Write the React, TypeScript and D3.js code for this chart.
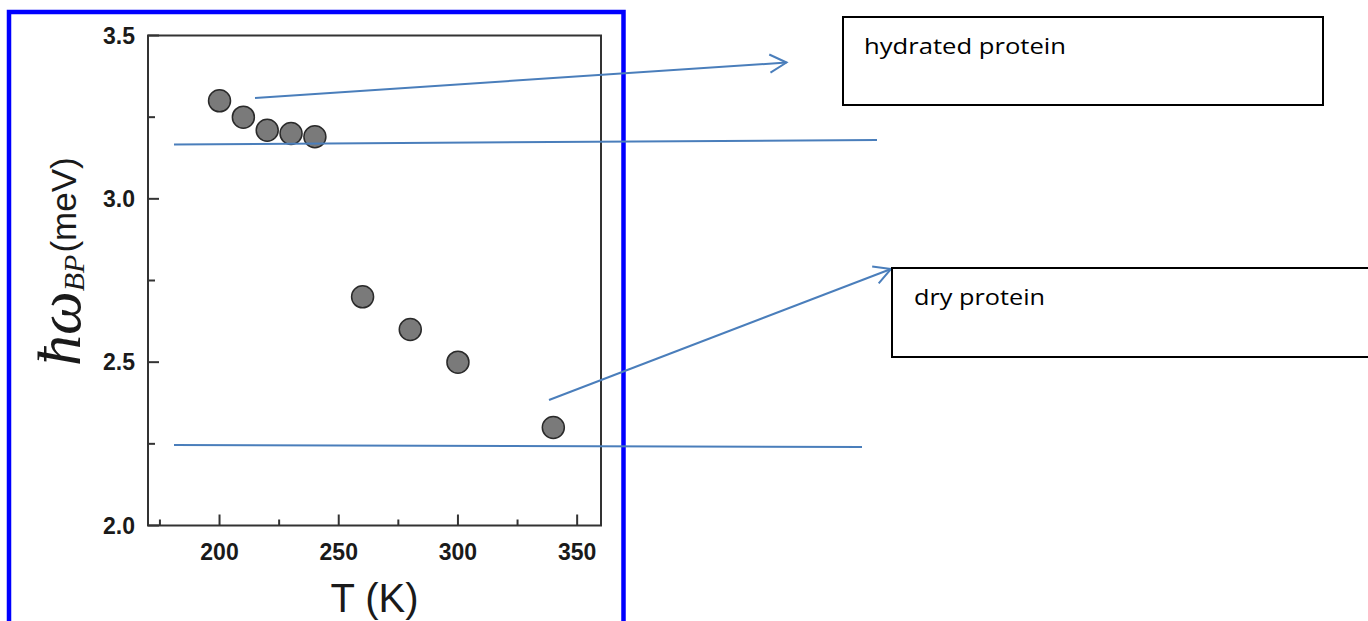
import React from "react";
import * as d3 from "d3";

const temperatures = [200, 210, 220, 230, 240, 260, 280, 300, 340];
const energies = [3.3, 3.25, 3.21, 3.2, 3.19, 2.7, 2.6, 2.5, 2.3];
const xMajorTicks = [200, 250, 300, 350];
const xMinorTicks = [175, 225, 275, 325];
const yMajorTicks = [2.0, 2.5, 3.0, 3.5];
const yMinorTicks = [2.25, 2.75, 3.25];
const annotationLabels = ["hydrated protein", "dry protein"];

const W = 1368;
const H = 621;
const plot = { left: 148, right: 601, top: 35.5, bottom: 525.5 };
const lineBlue = "#4a7ebb";

export default function App() {
  const x = d3.scaleLinear().domain([170, 360]).range([plot.left, plot.right]);
  const y = d3.scaleLinear().domain([2.0, 3.5]).range([plot.bottom, plot.top]);
  const pts = temperatures.map((t, i) => ({ t, e: energies[i] }));

  const arrowHead = (x1: number, y1: number, x2: number, y2: number, len = 19, ang = 0.5) => {
    const a = Math.atan2(y2 - y1, x2 - x1);
    const p1 = [x2 - len * Math.cos(a - ang), y2 - len * Math.sin(a - ang)];
    const p2 = [x2 - len * Math.cos(a + ang), y2 - len * Math.sin(a + ang)];
    return `M${p1[0]},${p1[1]}L${x2},${y2}L${p2[0]},${p2[1]}`;
  };

  return (
    <svg
      width={W}
      height={H}
      viewBox={`0 0 ${W} ${H}`}
      style={{ position: "absolute", left: 0, top: 0, display: "block", background: "#fff" }}
    >
      <rect x={0} y={0} width={W} height={H} fill="#fff" />
      {/* plot frame */}
      <rect
        x={plot.left}
        y={plot.top}
        width={plot.right - plot.left}
        height={plot.bottom - plot.top}
        fill="none"
        stroke="#333"
        strokeWidth={2}
      />
      {/* x ticks */}
      {xMajorTicks.map((t) => (
        <line key={"xM" + t} x1={x(t)} x2={x(t)} y1={plot.bottom} y2={plot.bottom - 11} stroke="#333" strokeWidth={2} />
      ))}
      {xMinorTicks.map((t) => (
        <line key={"xm" + t} x1={x(t)} x2={x(t)} y1={plot.bottom} y2={plot.bottom - 6} stroke="#333" strokeWidth={2} />
      ))}
      {yMajorTicks.map((t) => (
        <line key={"yM" + t} x1={plot.left} x2={plot.left + 11} y1={y(t)} y2={y(t)} stroke="#333" strokeWidth={2} />
      ))}
      {yMinorTicks.map((t) => (
        <line key={"ym" + t} x1={plot.left} x2={plot.left + 7} y1={y(t)} y2={y(t)} stroke="#333" strokeWidth={2} />
      ))}
      {/* tick labels */}
      {xMajorTicks.map((t) => (
        <text
          key={"xl" + t}
          x={x(t)}
          y={560}
          textAnchor="middle"
          fontFamily="'Liberation Sans', Arial, sans-serif"
          fontWeight="bold"
          fontSize={23}
          fill="#1a1a1a"
        >
          {t}
        </text>
      ))}
      {yMajorTicks.map((t) => (
        <text
          key={"yl" + t}
          x={135}
          y={y(t) + 8}
          textAnchor="end"
          fontFamily="'Liberation Sans', Arial, sans-serif"
          fontWeight="bold"
          fontSize={23}
          fill="#1a1a1a"
        >
          {t.toFixed(1)}
        </text>
      ))}
      {/* axis titles */}
      <text
        x={(plot.left + plot.right) / 2}
        y={612}
        textAnchor="middle"
        fontFamily="'Liberation Sans', Arial, sans-serif"
        fontSize={40}
        fill="#1a1a1a"
      >
        T (K)
      </text>
      <text transform="translate(80,366) rotate(-90)" fill="#1a1a1a">
        <tspan fontFamily="'Liberation Serif', 'Times New Roman', serif" fontStyle="italic" fontSize={62}>
          ħω
        </tspan>
        <tspan fontFamily="'Liberation Serif', 'Times New Roman', serif" fontStyle="italic" fontSize={30} dy={4}>
          BP
        </tspan>
        <tspan fontFamily="'Liberation Sans', Arial, sans-serif" fontSize={35} dy={-8} dx={2}>
          (meV)
        </tspan>
      </text>
      {/* points */}
      {pts.map((p, i) => (
        <circle key={i} cx={x(p.t)} cy={y(p.e)} r={11} fill="#7a7a7a" stroke="#2a2a2a" strokeWidth={1.5} />
      ))}
      {/* blue frame */}
      <path d={`M9,${H + 10}L9,12L623.5,12L623.5,${H + 10}`} fill="none" stroke="#0000ff" strokeWidth={4.5} />
      {/* annotation lines */}
      <line x1={255} y1={98} x2={786.5} y2={62.5} stroke={lineBlue} strokeWidth={2} />
      <path d={arrowHead(255, 98, 786.5, 62.5)} fill="none" stroke={lineBlue} strokeWidth={2} />
      <line x1={174} y1={144.5} x2={877} y2={140} stroke={lineBlue} strokeWidth={2} />
      <line x1={549} y1={400} x2={891} y2={269} stroke={lineBlue} strokeWidth={2} />
      <path d={arrowHead(549, 400, 891, 269)} fill="none" stroke={lineBlue} strokeWidth={2} />
      <line x1={174} y1={445} x2={862} y2={447} stroke={lineBlue} strokeWidth={2} />
      {/* annotation boxes */}
      <rect x={843} y={17} width={480} height={88} fill="#fff" stroke="#000" strokeWidth={2} />
      <text
        x={864}
        y={54}
        fontFamily="'Open Sans', 'Noto Sans', sans-serif"
        fontSize={22}
        textLength={202}
        lengthAdjust="spacingAndGlyphs"
        fill="#000"
      >
        {annotationLabels[0]}
      </text>
      <rect x={892} y={268} width={500} height={89} fill="#fff" stroke="#000" strokeWidth={2} />
      <text
        x={914}
        y={305}
        fontFamily="'Open Sans', 'Noto Sans', sans-serif"
        fontSize={22}
        textLength={131}
        lengthAdjust="spacingAndGlyphs"
        fill="#000"
      >
        {annotationLabels[1]}
      </text>
    </svg>
  );
}
